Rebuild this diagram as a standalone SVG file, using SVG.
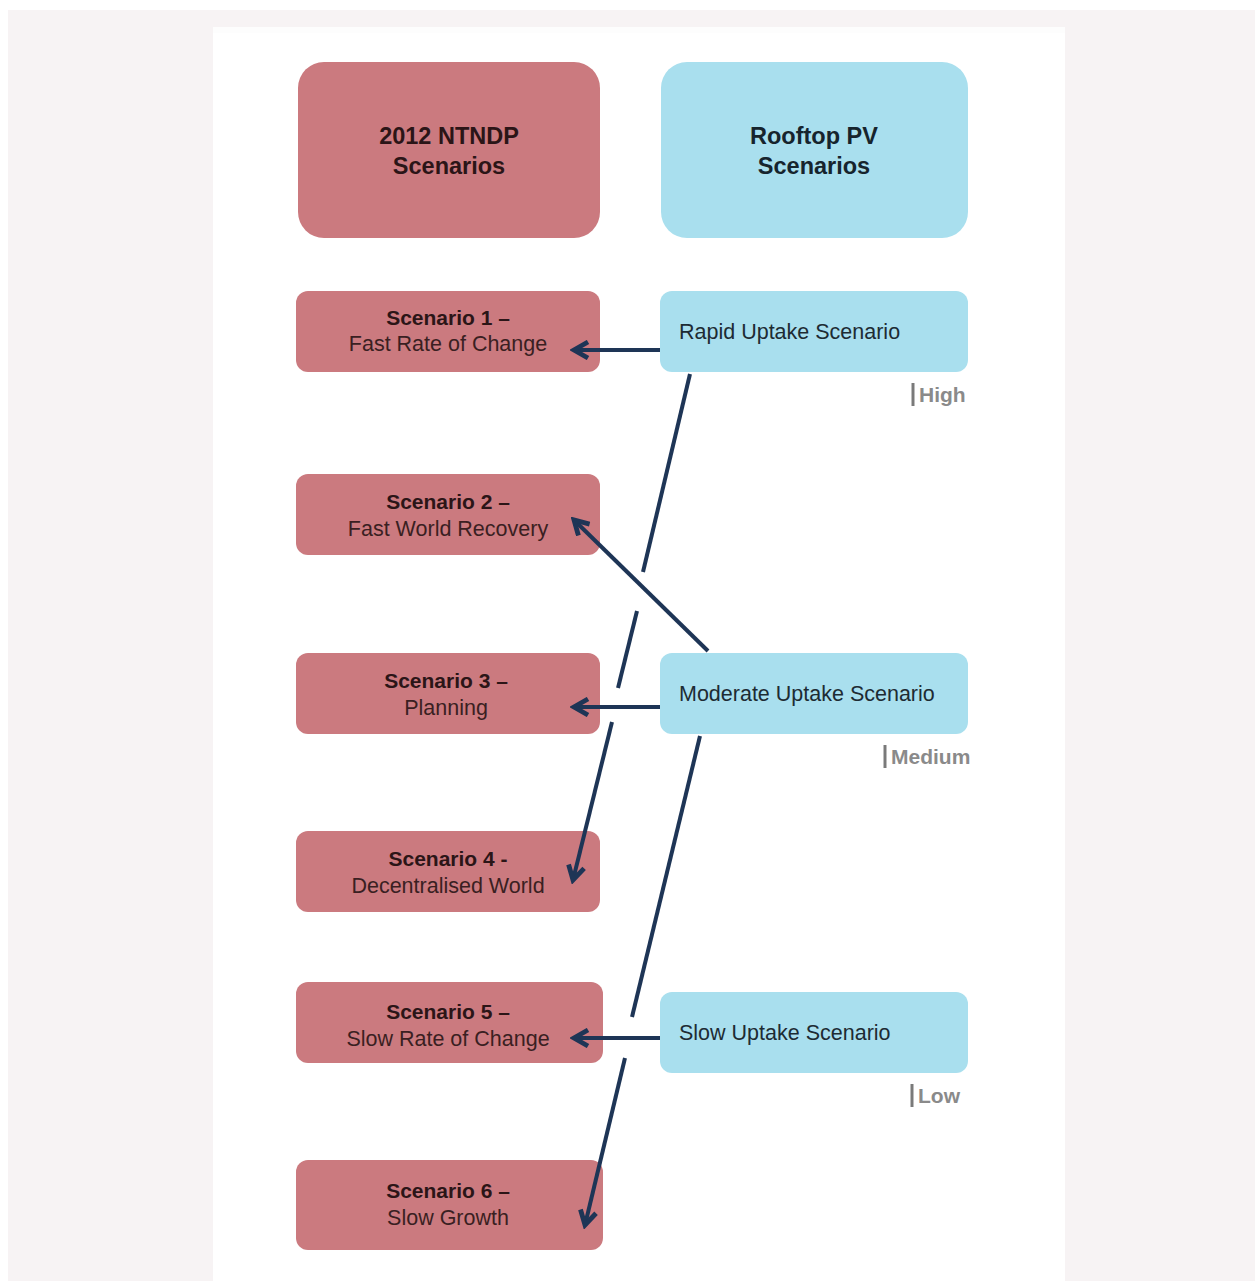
<svg xmlns="http://www.w3.org/2000/svg" width="1255" height="1281" viewBox="0 0 1255 1281">
<defs>
<style>
.pink{fill:#cb7a7f}
.blue{fill:#a9dfee}
.hdr{font-family:"Liberation Sans",Arial,sans-serif;font-weight:bold;font-size:23.5px;text-anchor:middle}
.hp{fill:#2b1517}
.hb{fill:#16242d}
.t1{font-family:"Liberation Sans",Arial,sans-serif;font-weight:bold;font-size:21px;text-anchor:middle;fill:#2b1517}
.t2{font-family:"Liberation Sans",Arial,sans-serif;font-size:21.5px;text-anchor:middle;fill:#3a1f22}
.tb{font-family:"Liberation Sans",Arial,sans-serif;font-size:21.5px;fill:#1d2b33}
.lvl{font-family:"Liberation Sans",Arial,sans-serif;font-weight:bold;font-size:21px;fill:#8a8a8a}
.bar{stroke:#7a7a7a;stroke-width:3}
.con{stroke:#1e3556;stroke-width:4;fill:none;stroke-linecap:butt}
</style>
<marker id="ah" viewBox="0 0 10 10" refX="8" refY="5" markerWidth="5" markerHeight="5" orient="auto" markerUnits="strokeWidth">
<path d="M1,1 L8,5 L1,9" fill="none" stroke="#1e3556" stroke-width="2.4"/>
</marker>
</defs>
<rect x="0" y="0" width="1255" height="1281" fill="#fff"/>
<rect x="8" y="10" width="1247" height="1271" fill="#f7f3f4"/>
<rect x="213" y="27" width="852" height="1254" fill="#fdfdfd"/>
<rect x="213" y="33" width="852" height="1248" fill="#ffffff"/>

<g id="hdr-ntndp"><rect class="pink" x="298" y="62" width="302" height="176" rx="26"/><text class="hdr hp" x="449" y="144">2012 NTNDP</text><text class="hdr hp" x="449" y="174">Scenarios</text></g>
<g id="hdr-pv"><rect class="blue" x="661" y="62" width="307" height="176" rx="26"/><text class="hdr hb" x="814" y="144">Rooftop PV</text><text class="hdr hb" x="814" y="174">Scenarios</text></g>

<g id="s1"><rect class="pink" x="296" y="291" width="304" height="81" rx="12"/><text class="t1" x="448" y="325">Scenario 1 –</text><text class="t2" x="448" y="351">Fast Rate of Change</text></g>
<g id="s2"><rect class="pink" x="296" y="474" width="304" height="81" rx="12"/><text class="t1" x="448" y="509">Scenario 2 –</text><text class="t2" x="448" y="536">Fast World Recovery</text></g>
<g id="s3"><rect class="pink" x="296" y="653" width="304" height="81" rx="12"/><text class="t1" x="446" y="688">Scenario 3 –</text><text class="t2" x="446" y="715">Planning</text></g>
<g id="s4"><rect class="pink" x="296" y="831" width="304" height="81" rx="12"/><text class="t1" x="448" y="866">Scenario 4 -</text><text class="t2" x="448" y="893">Decentralised World</text></g>
<g id="s5"><rect class="pink" x="296" y="982" width="307" height="81" rx="12"/><text class="t1" x="448" y="1019">Scenario 5 –</text><text class="t2" x="448" y="1046">Slow Rate of Change</text></g>
<g id="s6"><rect class="pink" x="296" y="1160" width="307" height="90" rx="12"/><text class="t1" x="448" y="1198">Scenario 6 –</text><text class="t2" x="448" y="1225">Slow Growth</text></g>

<g id="rapid"><rect class="blue" x="660" y="291" width="308" height="81" rx="12"/><text class="tb" x="679" y="339">Rapid Uptake Scenario</text></g>
<g id="moderate"><rect class="blue" x="660" y="653" width="308" height="81" rx="12"/><text class="tb" x="679" y="701">Moderate Uptake Scenario</text></g>
<g id="slow"><rect class="blue" x="660" y="992" width="308" height="81" rx="12"/><text class="tb" x="679" y="1040">Slow Uptake Scenario</text></g>

<g id="lvl-high"><line class="bar" x1="913" y1="383" x2="913" y2="406"/><text class="lvl" x="919" y="402">High</text></g>
<g id="lvl-medium"><line class="bar" x1="885" y1="745" x2="885" y2="768"/><text class="lvl" x="891" y="764">Medium</text></g>
<g id="lvl-low"><line class="bar" x1="912" y1="1084" x2="912" y2="1107"/><text class="lvl" x="918" y="1103">Low</text></g>

<g id="connectors">
<line class="con" x1="660" y1="350" x2="574" y2="350" marker-end="url(#ah)"/>
<line class="con" x1="660" y1="707" x2="574" y2="707" marker-end="url(#ah)"/>
<line class="con" x1="660" y1="1038" x2="574" y2="1038" marker-end="url(#ah)"/>
<line class="con" x1="708" y1="651" x2="574" y2="520" marker-end="url(#ah)"/>
<polyline class="con" points="690,374 643,572"/>
<polyline class="con" points="637,611 618,688"/>
<line class="con" x1="612" y1="722" x2="573" y2="880" marker-end="url(#ah)"/>
<polyline class="con" points="700,736 632,1017"/>
<line class="con" x1="625" y1="1058" x2="585" y2="1225" marker-end="url(#ah)"/>
</g>
</svg>
